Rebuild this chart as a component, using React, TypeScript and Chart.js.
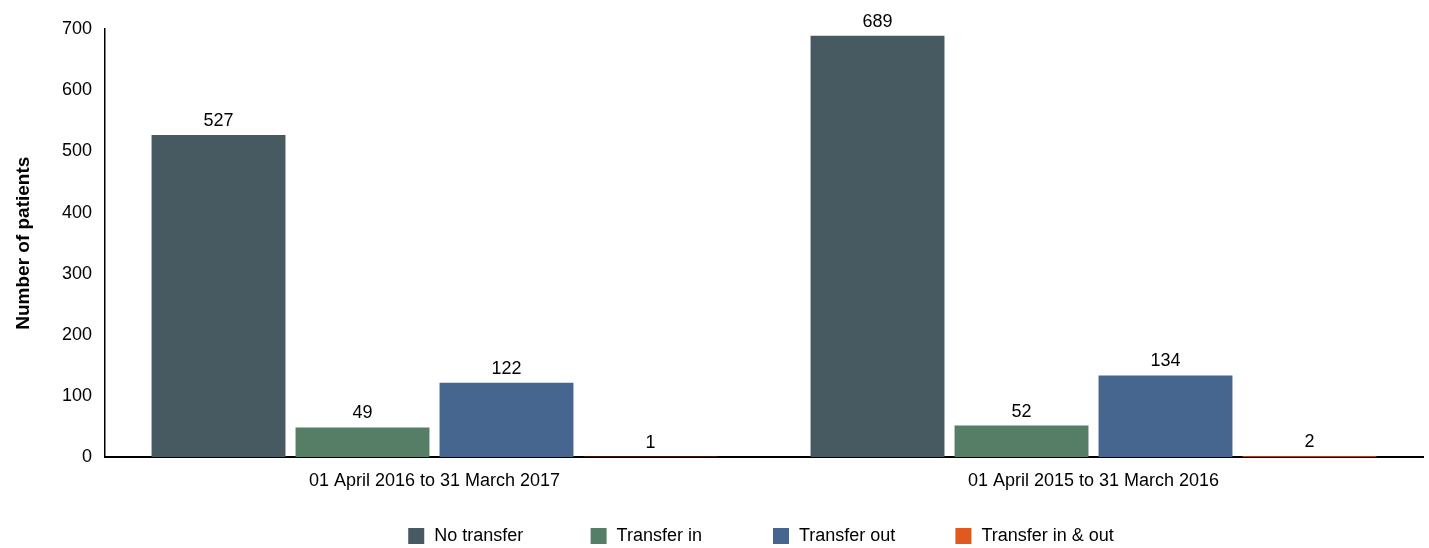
import React, { useEffect, useRef } from "react";
import { Chart, registerables } from "chart.js";

Chart.register(...registerables);

const categories = ["01 April 2016 to 31 March 2017", "01 April 2015 to 31 March 2016"];
const seriesNames = ["No transfer", "Transfer in", "Transfer out", "Transfer in & out"];
const noTransfer = [527, 689];
const transferIn = [49, 52];
const transferOut = [122, 134];
const transferInOut = [1, 2];
const seriesColors = ["#475a61", "#567d66", "#46668f", "#e0591f"];
const yTicks = [0, 100, 200, 300, 400, 500, 600, 700];

const FONT = "'Liberation Sans', Arial, sans-serif";

const valueLabels = {
  id: "valueLabels",
  afterDatasetsDraw(chart: any) {
    const ctx = chart.ctx;
    ctx.save();
    ctx.font = `18px ${FONT}`;
    ctx.fillStyle = "#000";
    ctx.textAlign = "center";
    ctx.textBaseline = "alphabetic";
    chart.data.datasets.forEach((ds: any, i: number) => {
      const meta = chart.getDatasetMeta(i);
      meta.data.forEach((bar: any, j: number) => {
        ctx.fillText(String(ds.data[j]), bar.x, bar.y - 9);
      });
    });
    ctx.restore();
  },
};

// Legend with equal-width entries, centred under the plot area
const cellLegend = {
  id: "cellLegend",
  afterDraw(chart: any) {
    const ctx = chart.ctx;
    const area = chart.chartArea;
    const box = 16;
    const gap = 10;
    const spacing = 24;
    ctx.save();
    ctx.font = `18px ${FONT}`;
    const items = chart.data.datasets.map((ds: any) => ({
      text: ds.label,
      color: ds.backgroundColor,
    }));
    const maxText = Math.max(...items.map((it: any) => ctx.measureText(it.text).width));
    const cellW = box + gap + maxText + spacing;
    const total = items.length * cellW - spacing;
    let x = (area.left + area.right) / 2 - total / 2 - 3;
    const cy = 536;
    ctx.textAlign = "left";
    ctx.textBaseline = "middle";
    items.forEach((it: any) => {
      ctx.fillStyle = it.color;
      ctx.fillRect(x, cy - box / 2, box, box);
      ctx.fillStyle = "#000";
      ctx.fillText(it.text, x + box + gap, cy);
      x += cellW;
    });
    ctx.restore();
  },
};

export default function App() {
  const ref = useRef<HTMLCanvasElement | null>(null);
  useEffect(() => {
    if (!ref.current) return;
    Chart.defaults.font.family = FONT;
    const values = [noTransfer, transferIn, transferOut, transferInOut];
    const chart = new Chart(ref.current, {
      type: "bar",
      data: {
        labels: categories,
        datasets: seriesNames.map((name, i) => ({
          label: name,
          data: values[i],
          backgroundColor: seriesColors[i],
          borderWidth: 0,
          categoryPercentage: 0.874,
          barPercentage: 0.93,
        })),
      },
      options: {
        responsive: false,
        animation: false,
        layout: { padding: { top: 29, right: 6, left: 0, bottom: 43 } },
        plugins: {
          tooltip: { enabled: false },
          legend: { display: false },
        },
        scales: {
          x: {
            grid: { drawOnChartArea: false, drawTicks: false },
            border: { display: true, color: "#000", width: 2 },
            ticks: { color: "#000", font: { size: 18 }, padding: 13 },
          },
          y: {
            min: 0,
            max: 700,
            grid: { drawOnChartArea: false, drawTicks: false },
            border: { display: true, color: "#000", width: 1.5 },
            afterBuildTicks: (scale: any) => {
              scale.ticks = yTicks.map((v) => ({ value: v }));
            },
            ticks: { color: "#000", font: { size: 18 }, padding: 13 },
            title: {
              display: true,
              text: "Number of patients",
              color: "#000",
              font: { size: 19, weight: "bold" },
              padding: { top: 12, bottom: 0 },
            },
            afterFit: (scale: any) => {
              scale.width = 105;
            },
          },
        },
      },
      plugins: [valueLabels, cellLegend],
    });
    return () => chart.destroy();
  }, []);
  return (
    <div style={{ position: "fixed", left: 0, top: 0, width: 1429, height: 548, background: "#fff" }}>
      <canvas ref={ref} width={1429} height={548} style={{ display: "block" }} />
    </div>
  );
}
